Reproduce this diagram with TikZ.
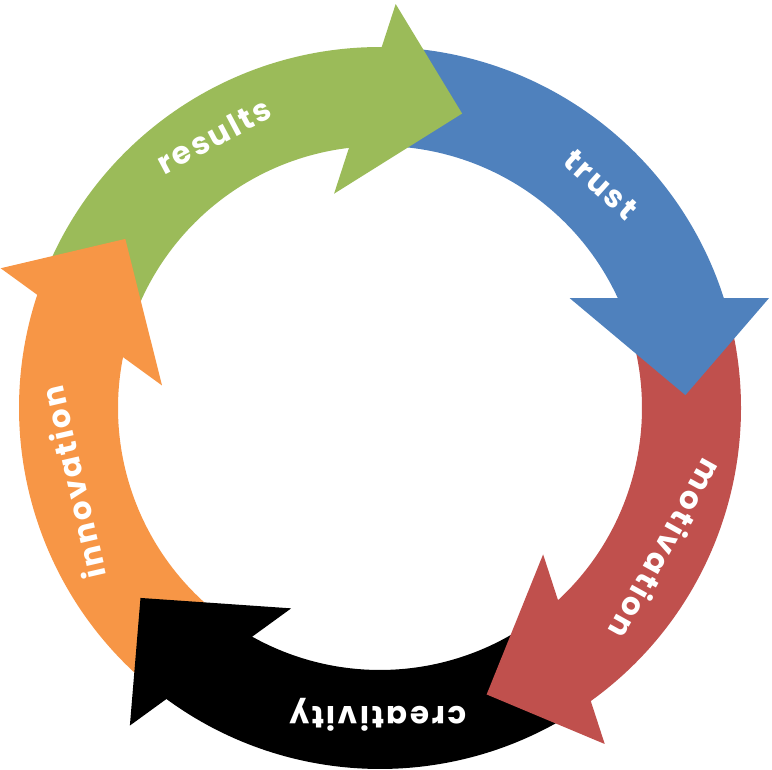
\documentclass[tikz,border=0pt]{standalone}
\usepackage{fontspec}
\newfontfamily\labfont{Poppins}[LetterSpace=8]
\definecolor{cgreen}{HTML}{9BBB59}
\definecolor{cblue}{HTML}{4F81BD}
\definecolor{cred}{HTML}{C0504D}
\definecolor{cblack}{HTML}{000000}
\definecolor{corange}{HTML}{F79646}
\newcommand\bandseg[2]{%
  \begin{scope}[shift={(380,362)}, rotate=#1]
    \fill[#2] (158:361) arc[start angle=158, end angle=85.5, radius=361]
      -- (92.5:262) arc[start angle=92.5, end angle=165, radius=262] -- cycle;
  \end{scope}}
\newcommand\headseg[2]{%
  \begin{scope}[shift={(380,362)}, rotate=#1]
    \fill[#2] (35.4,402.7) -- (96.4,290.1) -- (-35.4,216.3) -- cycle;
  \end{scope}}
\begin{document}
\begin{tikzpicture}[x=1pt,y=1pt,
  lab/.style={text=white, font=\labfont\bfseries\fontsize{31}{31}\selectfont,
    inner sep=0pt, text height=1ex, text depth=0pt}]
\useasboundingbox (0,0) rectangle (772,770);
\bandseg{2.8}{cgreen}
\bandseg{-69.2}{cblue}
\bandseg{-141.2}{cred}
\bandseg{-213.2}{cblack}
\bandseg{-285.2}{corange}
\headseg{2.8}{cgreen}
\headseg{-69.2}{cblue}
\headseg{-141.2}{cred}
\headseg{-213.2}{cblack}
\headseg{-285.2}{corange}
\node[lab, rotate=28] (results) at (218,626) {results};
\node[lab, rotate=-42] (trust) at (595,579) {trust};
\node[lab, rotate=-119] (motivation) at (657.5,225) {motivation};
\node[lab, rotate=180] (creativity) at (378,61) {creativity};
\node[lab, rotate=103] (innovation) at (82.5,289.5) {innovation};
\end{tikzpicture}
\end{document}
